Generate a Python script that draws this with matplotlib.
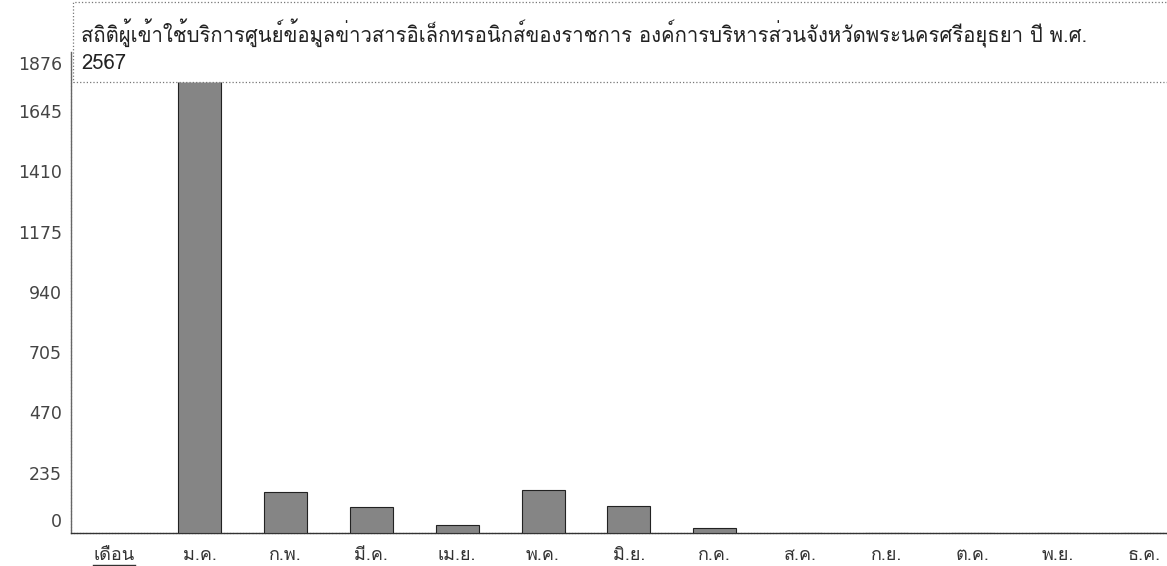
import matplotlib
matplotlib.use('Agg')
from matplotlib import pyplot as plt
from matplotlib import font_manager
from matplotlib.ft2font import FT2Font
from matplotlib.patches import Rectangle
from matplotlib.lines import Line2D
import matplotlib.transforms as mtransforms

title = ('สถิติผู้เข้าใช้บริการศูนย์ข้อมูลข่าวสารอิเล็กทรอนิกส์ของราชการ '
         'องค์การบริหารส่วนจังหวัดพระนครศรีอยุธยา ปี พ.ศ.\n2567')
axis_label = 'เดือน'
months = ['ม.ค.', 'ก.พ.', 'มี.ค.', 'เม.ย.', 'พ.ค.', 'มิ.ย.',
          'ก.ค.', 'ส.ค.', 'ก.ย.', 'ต.ค.', 'พ.ย.', 'ธ.ค.']
visitors = [1876, 160, 101, 31, 168, 105, 20, 0, 0, 0, 0, 0]
ytick_values = [0, 235, 470, 705, 940, 1175, 1410, 1645, 1876]


def find_thai_font():
    # first installed font that has Thai glyphs, if any
    for f in font_manager.fontManager.ttflist:
        try:
            if 0x0E2A in FT2Font(f.fname).get_charmap():
                return f.name
        except Exception:
            pass
    return None


thai = find_thai_font()
thai_family = [thai, 'DejaVu Sans'] if thai else ['DejaVu Sans']
plt.rcParams['font.family'] = ['DejaVu Sans']

W, H = 1167, 566
fig = plt.figure(figsize=(W / 100, H / 100), dpi=100)
ax = fig.add_axes([71 / W, 33 / H, (W - 71) / W, (533 - 52) / H])

positions = list(range(1, len(months) + 1))
ax.bar(positions, visitors, width=0.5, color='#858585',
       edgecolor='#222222', linewidth=0.8, zorder=3)

ax.set_xlim(-0.5, 12.27)
ax.set_ylim(0, 1876)

ax.set_xticks([0] + positions)
ax.set_xticklabels([axis_label] + months, family=thai_family,
                   fontsize=13, color='#333333')
ax.set_yticks(ytick_values)
ax.set_yticklabels([str(v) for v in ytick_values], family='DejaVu Sans',
                   fontsize=12.5, color='#444444')
ax.tick_params(axis='both', length=0)
ax.tick_params(axis='x', pad=9)
ax.tick_params(axis='y', pad=6.5)

for side in ['top', 'right']:
    ax.spines[side].set_visible(False)
ax.spines['left'].set_color('#666666')
ax.spines['bottom'].set_color('#333333')
for side in ['left', 'bottom']:
    ax.spines[side].set_linewidth(1)
    ax.spines[side].set_linestyle((0, (1.5, 0.8)))

# the first and last value labels sit a bit inside in the original
shifts = {0: 13, 1876: -11}
for tick, val in zip(ax.yaxis.get_major_ticks(), ytick_values):
    if val in shifts:
        off = mtransforms.ScaledTranslation(0, shifts[val] / 100, fig.dpi_scale_trans)
        tick.label1.set_transform(tick.label1.get_transform() + off)

# title box over the top of the plot
box = Rectangle((73 / W, 1 - 82 / H), 1 - 73 / W + 0.01, 80 / H,
                transform=fig.transFigure, facecolor='white',
                edgecolor='#777777', linestyle=':', linewidth=0.9, zorder=5)
fig.add_artist(box)
fig.text(81 / W, 1 - 46 / H, title, family=thai_family, fontsize=14.6,
         color='#222222', ha='left', va='center', linespacing=1.38, zorder=6)

# underline under the first category label
fig.canvas.draw()
bb = ax.get_xticklabels()[0].get_window_extent()
fig.add_artist(Line2D([bb.x0, bb.x1], [bb.y0 - 1, bb.y0 - 1], color='#333333',
                      linewidth=1, transform=mtransforms.IdentityTransform()))

fig.savefig('out.png', dpi=100)
